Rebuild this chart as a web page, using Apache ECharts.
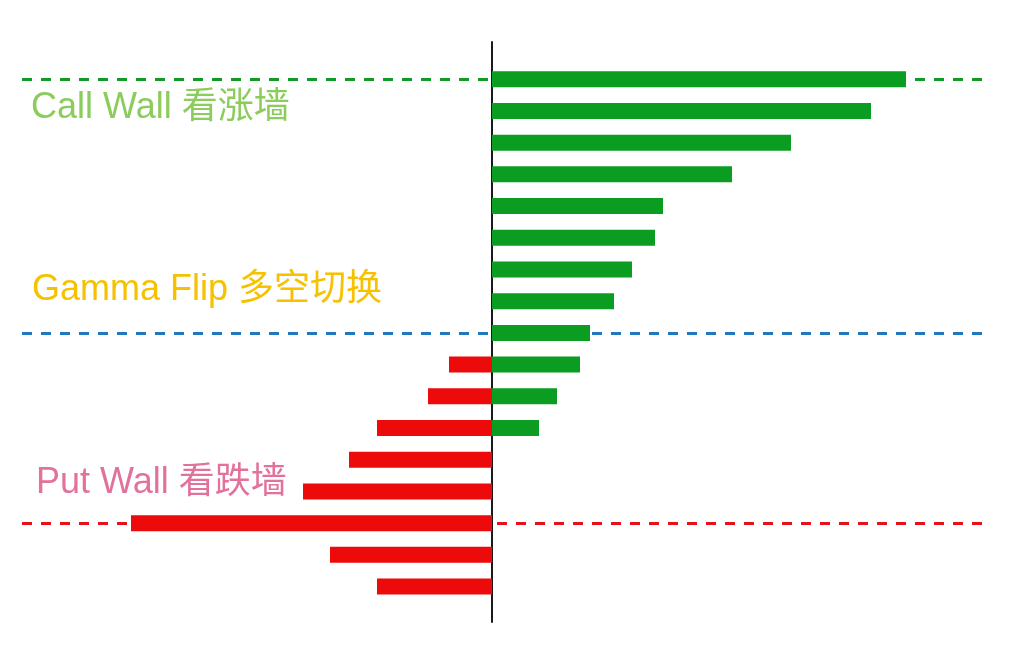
<!DOCTYPE html>
<html>
<head>
<meta charset="utf-8">
<script src="https://cdn.jsdelivr.net/npm/echarts@6/dist/echarts.min.js"></script>
<style>
html,body{margin:0;padding:0;background:#ffffff;}
#chart{width:1009px;height:659px;}
</style>
</head>
<body>
<div id="chart"></div>
<script>
// ---- data ----
const levels = ['L1','L2','L3','L4','L5','L6','L7','L8','L9','L10','L11','L12','L13','L14','L15','L16','L17'];
const callGamma = [414, 379, 299, 240, 171, 163, 140, 122, 98, 88, 65, 47, 0, 0, 0, 0, 0];
const putGamma  = [0, 0, 0, 0, 0, 0, 0, 0, 0, -43, -64, -115, -143, -189, -361, -162, -115];
const callWallLevel = 'L1';
const gammaFlipLevel = 'L9';
const putWallLevel = 'L15';
const annotations = ['Call Wall 看涨墙', 'Gamma Flip 多空切换', 'Put Wall 看跌墙'];

const FONT = '"Liberation Sans", "Noto Sans CJK SC", sans-serif';
const xMin = -470, xMax = 496;

const chart = echarts.init(document.getElementById('chart'), null, {renderer: 'canvas'});
const dash = [10, 9];
chart.setOption({
  backgroundColor: '#ffffff',
  animation: false,
  grid: [
    {left: 22, right: 21, top: 63.4, height: 539},
    {left: 22, right: 21, top: 42, bottom: 37}
  ],
  xAxis: [
    {type: 'value', gridIndex: 0, min: xMin, max: xMax, show: false},
    {type: 'value', gridIndex: 1, min: xMin, max: xMax, show: false}
  ],
  yAxis: [
    {type: 'category', gridIndex: 0, data: levels, inverse: true, show: false},
    {type: 'value', gridIndex: 1, min: 0, max: 1,
      axisLine: {show: true, onZero: true, lineStyle: {color: '#1a1a1a', width: 2}},
      axisTick: {show: false}, axisLabel: {show: false}, splitLine: {show: false}}
  ],
  series: [
    {
      type: 'line', xAxisIndex: 0, yAxisIndex: 0, data: [], z: 1, silent: true,
      markLine: {
        silent: true, symbol: 'none', label: {show: false}, animation: false, z: 1,
        data: [
          {yAxis: callWallLevel, lineStyle: {color: '#139a25', width: 3, type: dash}},
          {yAxis: gammaFlipLevel, lineStyle: {color: '#1f78c0', width: 3, type: dash}},
          {yAxis: putWallLevel, lineStyle: {color: '#e5121a', width: 3, type: dash}}
        ]
      }
    },
    {
      name: 'Call', type: 'bar', xAxisIndex: 0, yAxisIndex: 0, data: callGamma,
      barWidth: 16, barGap: '-100%', z: 3,
      itemStyle: {color: '#0b9c22'}
    },
    {
      name: 'Put', type: 'bar', xAxisIndex: 0, yAxisIndex: 0, data: putGamma,
      barWidth: 16, barGap: '-100%', z: 3,
      itemStyle: {color: '#ec0a0a'}
    }
  ],
  graphic: [
    {type: 'text', x: 31, y: 108, z: 10,
      style: {text: annotations[0], fill: '#8bcc5c', font: '36px ' + FONT, verticalAlign: 'middle'}},
    {type: 'text', x: 32, y: 290, z: 10,
      style: {text: annotations[1], fill: '#f6c200', font: '36px ' + FONT, verticalAlign: 'middle'}},
    {type: 'text', x: 36, y: 483, z: 10,
      style: {text: annotations[2], fill: '#e2729c', font: '36px ' + FONT, verticalAlign: 'middle'}}
  ]
});
</script>
</body>
</html>
